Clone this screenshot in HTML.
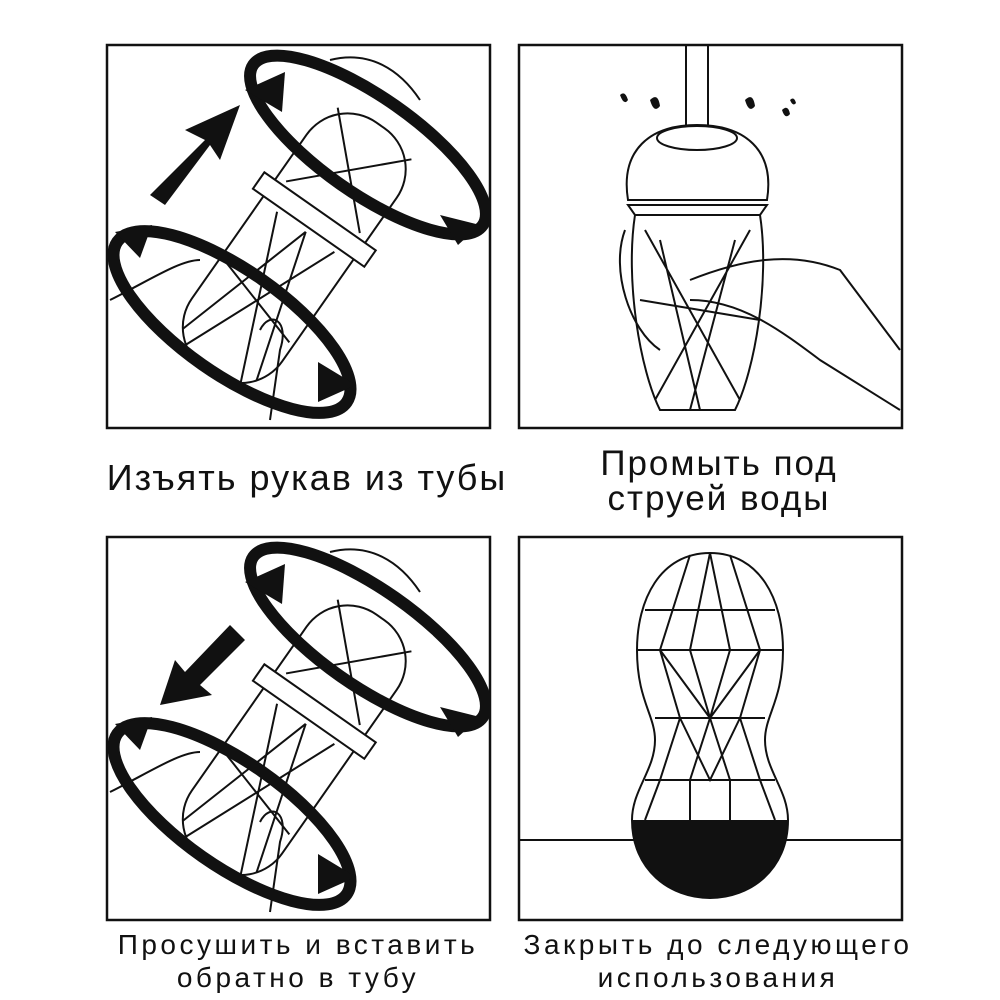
<!DOCTYPE html>
<html><head><meta charset="utf-8">
<style>
html,body{margin:0;padding:0;background:#fff;}
body{width:1000px;height:1000px;position:relative;overflow:hidden;font-family:"Liberation Sans","DejaVu Sans",sans-serif;}
.t{position:absolute;text-align:center;color:#111;white-space:nowrap;}
</style></head><body>
<svg width="1000" height="1000" style="position:absolute;left:0;top:0" xmlns="http://www.w3.org/2000/svg">
<defs>
<clipPath id="c1"><rect x="107" y="45" width="383" height="383"/></clipPath>
<clipPath id="c3"><rect x="107" y="537" width="383" height="383"/></clipPath>
</defs>
<g fill="none" stroke="#111" stroke-width="2.5">
<rect x="107" y="45" width="383" height="383"/>
<rect x="519" y="45" width="383" height="383"/>
<rect x="107" y="537" width="383" height="383"/>
<rect x="519" y="537" width="383" height="383"/>
</g>
<!-- panel 1 -->
<g clip-path="url(#c1)">
<g stroke="#111" fill="none" stroke-width="2">
<g transform="rotate(35 300 240)">
<rect x="245" y="100" width="110" height="300" rx="50" fill="#fff"/>
<rect x="232" y="205" width="136" height="20" fill="#fff"/>
<path d="M255 110 L345 200 M345 110 L255 200 M265 230 L335 395 M335 230 L265 395 M250 300 L350 330 M300 230 L255 380 M300 230 L345 380"/>
</g>
<path d="M110 300 C150 280 180 260 200 260 M330 60 C370 50 400 70 420 100 M260 330 C270 310 290 320 280 350 L270 420"/>
</g>
<g fill="none" stroke="#111" stroke-width="12">
<ellipse cx="368" cy="145" rx="140" ry="48" transform="rotate(35 368 145)"/>
<ellipse cx="232" cy="322" rx="140" ry="52" transform="rotate(35 232 322)"/>
</g>
</g>
<g fill="#111">
<polygon points="245,90 285,72 282,112"/>
<polygon points="440,215 480,225 458,245"/>
<polygon points="115,232 152,225 140,258"/>
<polygon points="318,362 356,385 318,402"/>
<polygon points="150,195 205,140 185,130 240,105 220,160 210,145 165,205"/>
</g>
<!-- panel 2 -->
<g stroke="#111" fill="none" stroke-width="2">
<rect x="686" y="45" width="22" height="95"/>
<path d="M628 200 C620 150 650 125 697 125 C745 125 775 150 767 200 Z" fill="#fff"/>
<ellipse cx="697" cy="138" rx="40" ry="12"/>
<path d="M628 205 L767 205 L760 215 L635 215 Z"/>
<path d="M635 215 C625 280 640 370 660 410 L735 410 C755 370 770 280 760 215"/>
<path d="M645 230 L740 400 M750 230 L655 400 M640 300 L760 320 M660 240 L700 410 M735 240 L690 410"/>
<path d="M690 280 C740 260 790 250 840 270 L900 350 M690 300 C740 300 780 330 820 360 L900 410"/>
<path d="M625 230 C610 270 630 330 660 350"/>
</g>
<g fill="#111">
<path d="M620 95 q5 -5 8 5 q-4 6 -8 -5z"/><path d="M650 100 q8 -8 10 6 q-6 8 -10 -6z"/>
<path d="M745 100 q8 -8 10 6 q-6 8 -10 -6z"/><path d="M782 110 q6 -6 8 4 q-5 6 -8 -4z"/><path d="M790 100 q4 -4 6 3 q-3 4 -6 -3z"/>
</g>
<!-- panel 3 -->
<g clip-path="url(#c3)">
<g stroke="#111" fill="none" stroke-width="2">
<g transform="rotate(35 300 732)">
<rect x="245" y="592" width="110" height="300" rx="50" fill="#fff"/>
<rect x="232" y="697" width="136" height="20" fill="#fff"/>
<path d="M255 602 L345 692 M345 602 L255 692 M265 722 L335 887 M335 722 L265 887 M250 792 L350 822 M300 722 L255 872 M300 722 L345 872"/>
</g>
<path d="M110 792 C150 772 180 752 200 752 M330 552 C370 542 400 562 420 592 M260 822 C270 802 290 812 280 842 L270 912"/>
</g>
<g fill="none" stroke="#111" stroke-width="12">
<ellipse cx="368" cy="637" rx="140" ry="48" transform="rotate(35 368 637)"/>
<ellipse cx="232" cy="814" rx="140" ry="52" transform="rotate(35 232 814)"/>
</g>
</g>
<g fill="#111">
<polygon points="245,582 285,564 282,604"/>
<polygon points="440,707 480,717 458,737"/>
<polygon points="115,724 152,717 140,750"/>
<polygon points="318,854 356,877 318,894"/>
<polygon points="160,705 175,660 185,672 230,625 245,640 200,685 212,695"/>
</g>
<!-- panel 4 -->
<line x1="519" y1="840" x2="902" y2="840" stroke="#111" stroke-width="2"/>
<g stroke="#111" fill="none" stroke-width="2">
<path d="M710 553 C660 553 637 600 637 650 C637 700 655 715 655 740 C655 770 632 790 632 820 C632 870 670 898 710 898 C750 898 788 870 788 820 C788 790 765 770 765 740 C765 715 783 700 783 650 C783 600 760 553 710 553 Z"/>
<path d="M645 610 L775 610 M637 650 L783 650 M655 718 L765 718 M645 780 L775 780"/>
<path d="M690 555 L660 650 L680 718 L660 780 L645 820 M730 555 L760 650 L740 718 L760 780 L775 820 M710 553 L690 650 L710 718 L690 780 L690 820 M710 553 L730 650 L710 718 L730 780 L730 820 M660 650 L710 718 L760 650 M680 718 L710 780 L740 718"/>
</g>
<path d="M632 820 L788 820 C788 870 750 898 710 898 C670 898 632 870 632 820 Z" fill="#111"/>
</svg>
<div class="t" style="left:57px;width:500px;top:457px;font-size:36px;letter-spacing:2px;">Изъять рукав из тубы</div>
<div class="t" style="left:469px;width:500px;top:446px;font-size:35px;line-height:35px;letter-spacing:2px;">Промыть под<br>струей воды</div>
<div class="t" style="left:48px;width:500px;top:928px;font-size:28px;line-height:33px;letter-spacing:3.5px;">Просушить и вставить<br>обратно в тубу</div>
<div class="t" style="left:468px;width:500px;top:928px;font-size:28px;line-height:33px;letter-spacing:3.5px;">Закрыть до следующего<br>использования</div>
</body></html>
